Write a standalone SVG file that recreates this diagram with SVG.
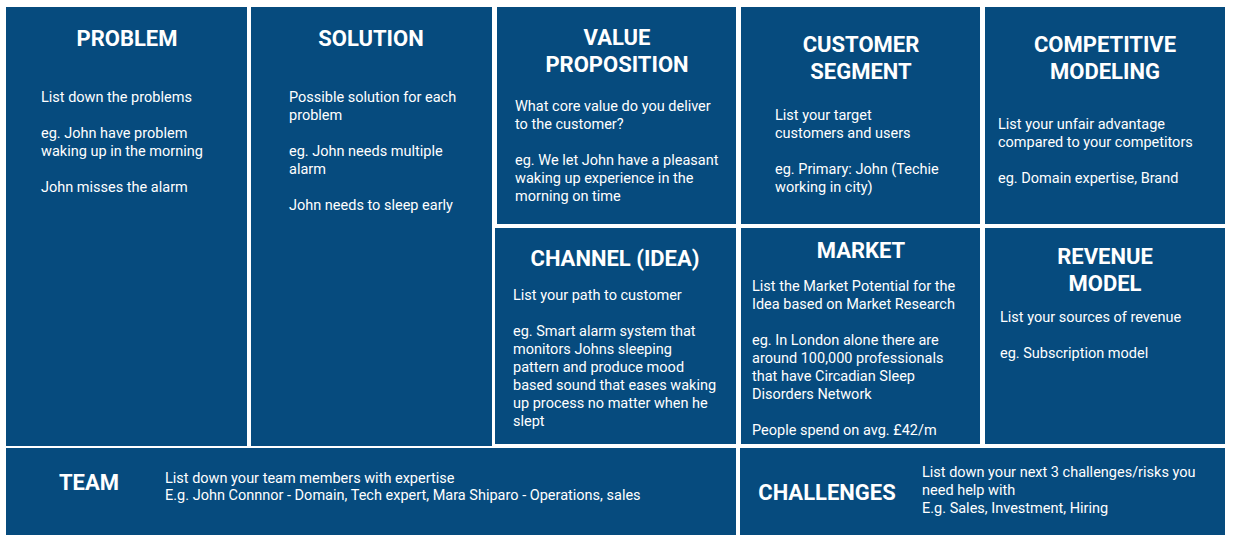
<svg xmlns="http://www.w3.org/2000/svg" width="1234" height="540" viewBox="0 0 1234 540">
  <style>
    .cell { fill: #064b7e; }
    .title { font-family: Roboto, "Liberation Sans", sans-serif; font-weight: 700; font-size: 22px; fill: #ffffff; text-anchor: middle; }
    .body { font-family: Roboto, "Liberation Sans", sans-serif; font-size: 14.5px; fill: #ffffff; }
  </style>
  <rect width="1234" height="540" fill="#ffffff"/>

  <!-- Top row -->
  <g id="problem">
    <rect class="cell" x="6" y="7" width="241" height="439"/>
    <text class="title" x="127" y="46">PROBLEM</text>
    <text class="body" x="41" y="102">List down the problems</text>
    <text class="body" x="41" y="138">eg. John have problem</text>
    <text class="body" x="41" y="156">waking up in the morning</text>
    <text class="body" x="41" y="192">John misses the alarm</text>
  </g>

  <g id="solution">
    <rect class="cell" x="251" y="7" width="241" height="439"/>
    <text class="title" x="371" y="46">SOLUTION</text>
    <text class="body" x="289" y="102">Possible solution for each</text>
    <text class="body" x="289" y="120">problem</text>
    <text class="body" x="289" y="156">eg. John needs multiple</text>
    <text class="body" x="289" y="174">alarm</text>
    <text class="body" x="289" y="210">John needs to sleep early</text>
  </g>

  <g id="value-proposition">
    <rect class="cell" x="497" y="7" width="239" height="217"/>
    <text class="title" x="617" y="45">VALUE</text>
    <text class="title" x="617" y="72">PROPOSITION</text>
    <text class="body" x="515" y="111">What core value do you deliver</text>
    <text class="body" x="515" y="129">to the customer?</text>
    <text class="body" x="515" y="165">eg. We let John have a pleasant</text>
    <text class="body" x="515" y="183">waking up experience in the</text>
    <text class="body" x="515" y="201">morning on time</text>
  </g>

  <g id="customer-segment">
    <rect class="cell" x="741" y="7" width="239" height="217"/>
    <text class="title" x="861" y="52">CUSTOMER</text>
    <text class="title" x="861" y="79">SEGMENT</text>
    <text class="body" x="775" y="120">List your target</text>
    <text class="body" x="775" y="138">customers and users</text>
    <text class="body" x="775" y="174">eg. Primary: John (Techie</text>
    <text class="body" x="775" y="192">working in city)</text>
  </g>

  <g id="competitive-modeling">
    <rect class="cell" x="985" y="7" width="240" height="217"/>
    <text class="title" x="1105" y="52">COMPETITIVE</text>
    <text class="title" x="1105" y="79">MODELING</text>
    <text class="body" x="998" y="129">List your unfair advantage</text>
    <text class="body" x="998" y="147">compared to your competitors</text>
    <text class="body" x="998" y="183">eg. Domain expertise, Brand</text>
  </g>

  <!-- Middle row -->
  <g id="channel">
    <rect class="cell" x="495" y="228" width="241" height="216"/>
    <text class="title" x="615" y="266">CHANNEL (IDEA)</text>
    <text class="body" x="513" y="300">List your path to customer</text>
    <text class="body" x="513" y="336">eg. Smart alarm system that</text>
    <text class="body" x="513" y="354">monitors Johns sleeping</text>
    <text class="body" x="513" y="372">pattern and produce mood</text>
    <text class="body" x="513" y="390">based sound that eases waking</text>
    <text class="body" x="513" y="408">up process no matter when he</text>
    <text class="body" x="513" y="426">slept</text>
  </g>

  <g id="market">
    <rect class="cell" x="741" y="228" width="239" height="216"/>
    <text class="title" x="861" y="258">MARKET</text>
    <text class="body" x="752" y="291">List the Market Potential for the</text>
    <text class="body" x="752" y="309">Idea based on Market Research</text>
    <text class="body" x="752" y="345">eg. In London alone there are</text>
    <text class="body" x="752" y="363">around 100,000 professionals</text>
    <text class="body" x="752" y="381">that have Circadian Sleep</text>
    <text class="body" x="752" y="399">Disorders Network</text>
    <text class="body" x="752" y="435">People spend on avg. £42/m</text>
  </g>

  <g id="revenue-model">
    <rect class="cell" x="985" y="228" width="240" height="216"/>
    <text class="title" x="1105" y="264">REVENUE</text>
    <text class="title" x="1105" y="291">MODEL</text>
    <text class="body" x="1000" y="322">List your sources of revenue</text>
    <text class="body" x="1000" y="358">eg. Subscription model</text>
  </g>

  <!-- Bottom row -->
  <g id="team">
    <rect class="cell" x="6" y="448" width="730" height="87"/>
    <text class="title" x="89" y="490">TEAM</text>
    <text class="body" x="165" y="483">List down your team members with expertise</text>
    <text class="body" x="165" y="500">E.g. John Connnor - Domain, Tech expert, Mara Shiparo - Operations, sales</text>
  </g>

  <g id="challenges">
    <rect class="cell" x="740" y="448" width="485" height="87"/>
    <text class="title" x="827" y="500">CHALLENGES</text>
    <text class="body" x="922" y="477">List down your next 3 challenges/risks you</text>
    <text class="body" x="922" y="495">need help with</text>
    <text class="body" x="922" y="513">E.g. Sales, Investment, Hiring</text>
  </g>
</svg>
